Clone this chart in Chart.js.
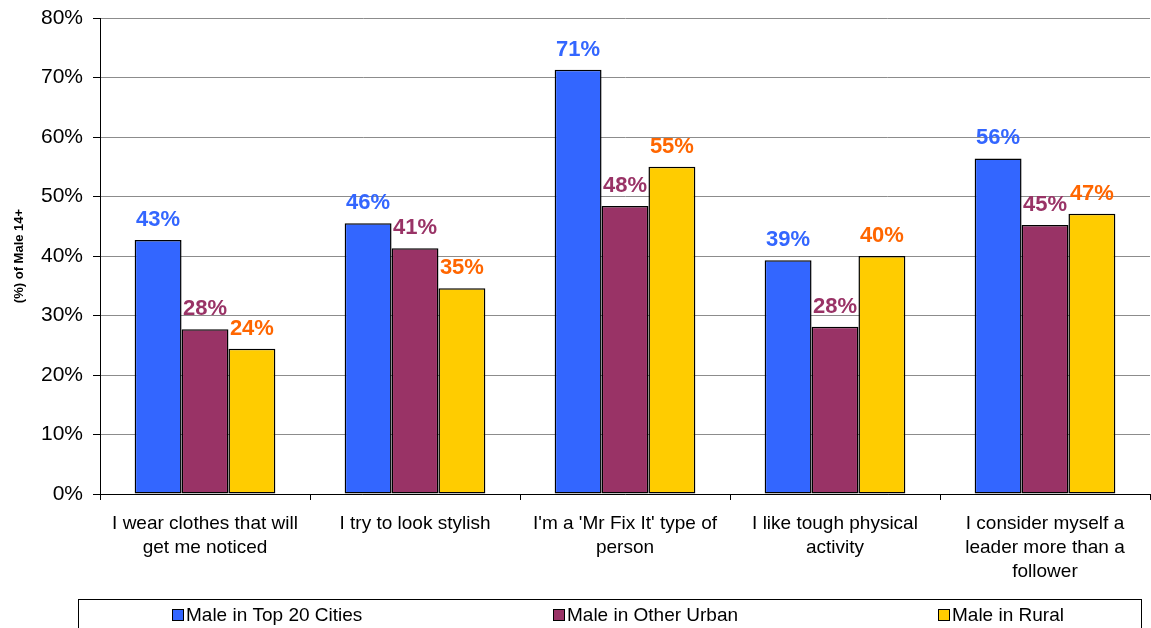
<!DOCTYPE html>
<html>
<head>
<meta charset="utf-8">
<script src="https://cdn.jsdelivr.net/npm/chart.js@4/dist/chart.umd.min.js"></script>
<style>
  html, body { margin: 0; padding: 0; background: #fff; }
  #wrap { width: 1151px; height: 628px; }
</style>
</head>
<body>
<div id="wrap"><canvas id="chart"></canvas></div>
<script>
// categories and series
const categories = [
    ["I wear clothes that will", "get me noticed"],
    ["I try to look stylish"],
    ["I'm a 'Mr Fix It' type of", "person"],
    ["I like tough physical", "activity"],
    ["I consider myself a", "leader more than a", "follower"]
];
const seriesNames = ["Male in Top 20 Cities", "Male in Other Urban", "Male in Rural"];
const top20Cities = [42.7, 45.5, 71.3, 39.3, 56.4];
const otherUrban = [27.7, 41.3, 48.4, 28.1, 45.2];
const rural = [24.4, 34.6, 55.0, 40.0, 47.1];
const yTicks = [0, 10, 20, 30, 40, 50, 60, 70, 80];

const barColors = ["#3366FF", "#993366", "#FFCC00"];
const labelColors = ["#3366FF", "#993366", "#FF6600"];

// value labels above each bar
const valueLabels = {
    id: "valueLabels",
    afterDatasetsDraw(chart) {
        const ctx = chart.ctx;
        ctx.save();
        ctx.font = "bold 22px Arial, 'Liberation Sans', sans-serif";
        ctx.textAlign = "center";
        ctx.textBaseline = "alphabetic";
        chart.data.datasets.forEach((ds, i) => {
            const meta = chart.getDatasetMeta(i);
            ctx.fillStyle = labelColors[i];
            meta.data.forEach((bar, j) => {
                ctx.fillText(Math.round(ds.data[j]) + "%", bar.x, bar.y - 14);
            });
        });
        ctx.restore();
    }
};

// legend drawn in a framed box at the bottom
const boxLegend = {
    id: "boxLegend",
    afterDraw(chart) {
        const ctx = chart.ctx;
        ctx.save();
        ctx.strokeStyle = "#000";
        ctx.lineWidth = 1;
        ctx.strokeRect(78.5, 599.5, 1063, 40);
        const starts = [172, 553, 938];
        ctx.font = "19px Arial, 'Liberation Sans', sans-serif";
        ctx.textBaseline = "middle";
        ctx.textAlign = "left";
        seriesNames.forEach((name, i) => {
            ctx.fillStyle = barColors[i];
            ctx.fillRect(starts[i] + 0.5, 609.5, 11, 11);
            ctx.strokeStyle = "#000";
            ctx.strokeRect(starts[i] + 0.5, 609.5, 11, 11);
            ctx.fillStyle = "#000";
            ctx.fillText(name, starts[i] + 14, 615.5);
        });
        ctx.restore();
    }
};

const ctx = document.getElementById("chart").getContext("2d");
new Chart(ctx, {
    type: "bar",
    data: {
        labels: categories,
        datasets: [
            { label: seriesNames[0], data: top20Cities },
            { label: seriesNames[1], data: otherUrban },
            { label: seriesNames[2], data: rural }
        ].map((d, i) => Object.assign(d, {
            backgroundColor: barColors[i],
            borderColor: "#000",
            borderWidth: 1.5,
            borderSkipped: false,
            categoryPercentage: 0.67,
            barPercentage: 1.0
        }))
    },
    options: {
        responsive: true,
        maintainAspectRatio: false,
        animation: false,
        layout: { padding: { top: 18, right: 1, left: 0, bottom: 0 } },
        plugins: {
            legend: { display: false },
            tooltip: { enabled: false }
        },
        scales: {
            x: {
                grid: {
                    offset: true,
                    drawOnChartArea: false,
                    drawTicks: true,
                    tickLength: 6,
                    color: "#000"
                },
                border: { color: "#000", width: 1 },
                ticks: {
                    color: "#000",
                    font: { family: "Arial, 'Liberation Sans', sans-serif", size: 19, lineHeight: 1.25 },
                    padding: 12,
                    maxRotation: 0,
                    autoSkip: false
                },
                afterFit(scale) { scale.height = 134; }
            },
            y: {
                min: 0,
                max: 80,
                afterBuildTicks(scale) {
                    scale.ticks = yTicks.map(v => ({ value: v }));
                },
                grid: {
                    color: "#8c8c8c",
                    tickColor: "#000",
                    tickLength: 7
                },
                border: { color: "#000", width: 1 },
                ticks: {
                    color: "#000",
                    font: { family: "Arial, 'Liberation Sans', sans-serif", size: 21 },
                    padding: 10,
                    callback: v => v + "%"
                },
                title: {
                    display: true,
                    text: "(%) of Male 14+",
                    color: "#000",
                    font: { family: "Arial, 'Liberation Sans', sans-serif", size: 13, weight: "bold" },
                    padding: { top: 12, bottom: 0 }
                },
                afterFit(scale) {
                    scale.width = 100;
                    scale.paddingTop = 0;
                    scale.paddingBottom = 0;
                }
            }
        }
    },
    plugins: [valueLabels, boxLegend]
});
</script>
</body>
</html>
